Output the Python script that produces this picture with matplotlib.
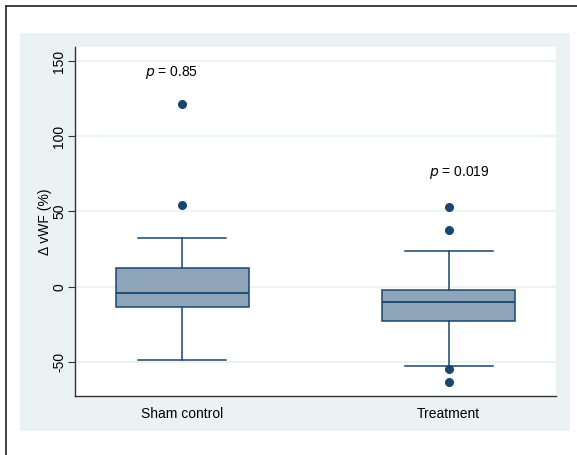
import matplotlib
matplotlib.use("Agg")
import matplotlib.pyplot as plt
from matplotlib.patches import Rectangle
from matplotlib.lines import Line2D

plt.rcParams['font.family'] = ['Liberation Sans', 'DejaVu Sans']

categories = ["Sham control", "Treatment"]
whisker_low = [-48.9, -52.9]
q1 = [-13.7, -22.6]
median = [-4.4, -10.0]
q3 = [12.4, -2.4]
whisker_high = [32.2, 23.9]
outliers = [[121.2, 54.1], [52.8, 37.9, -54.9, -63.1]]
p_labels = ["0.85", "0.019"]
p_y = [142.2, 75.7]
yticks = [-50, 0, 50, 100, 150]

navy = "#1A476F"
boxfill = "#8EA4B8"
bg = "#EAF2F3"

fig = plt.figure(figsize=(5.77, 4.55), dpi=100)
fig.patch.set_facecolor("white")
fig.patches.append(Rectangle((20/577, 1-431/455), 550/577, 398/455,
                             transform=fig.transFigure, facecolor=bg,
                             edgecolor="none", zorder=-10))
fig.lines.append(Line2D([6/577, 6/577], [0, 1-6/455], transform=fig.transFigure,
                        color="#333333", lw=1.3, zorder=-5))
fig.lines.append(Line2D([6/577, 1], [1-6/455, 1-6/455], transform=fig.transFigure,
                        color="#333333", lw=1.3, zorder=-5))

ax = fig.add_axes([75.3/577, 1-395.7/455, 480.4/577, 348.4/455])
ax.set_zorder(1)
ax.set_facecolor("white")

stats = []
for i, c in enumerate(categories):
    stats.append(dict(label=c, whislo=whisker_low[i], q1=q1[i], med=median[i],
                      q3=q3[i], whishi=whisker_high[i], fliers=outliers[i]))

ax.bxp(stats, positions=[1, 2], widths=0.5, patch_artist=True,
       boxprops=dict(facecolor=boxfill, edgecolor=navy, linewidth=1.1),
       medianprops=dict(color=navy, linewidth=1.3),
       whiskerprops=dict(color=navy, linewidth=1.1),
       capprops=dict(color=navy, linewidth=1.1),
       capwidths=0.33,
       flierprops=dict(marker='o', markerfacecolor=navy, markeredgecolor=navy,
                       markersize=5.5, linestyle='none'),
       zorder=3)

ax.set_xlim(0.598, 2.402)
ax.set_ylim(-72.4, 159.1)
ax.set_yticks(yticks)
ax.set_yticklabels([str(t) for t in yticks], rotation=90, va='center', fontsize=10)
ax.yaxis.grid(True, color=bg, linewidth=1.3, zorder=0)
ax.set_axisbelow(True)
ax.tick_params(axis='y', length=5, width=0.8, color='#333333', pad=1.5)
ax.tick_params(axis='x', length=0, labelsize=10, pad=8)
ax.set_xticks([1, 2])
ax.set_xticklabels(categories)
ax.set_ylabel("\u0394 vWF (%)", fontsize=10, labelpad=0.5)

for s in ["top", "right"]:
    ax.spines[s].set_visible(False)
for s in ["left", "bottom"]:
    ax.spines[s].set_color("#333333")
    ax.spines[s].set_linewidth(1.0)

p_x = [0.96, 2.04]
for i in range(2):
    ax.text(p_x[i], p_y[i], r"$p$ = " + p_labels[i], ha='center', va='center',
            fontsize=10)

fig.savefig("out.png", dpi=100, facecolor="white")
